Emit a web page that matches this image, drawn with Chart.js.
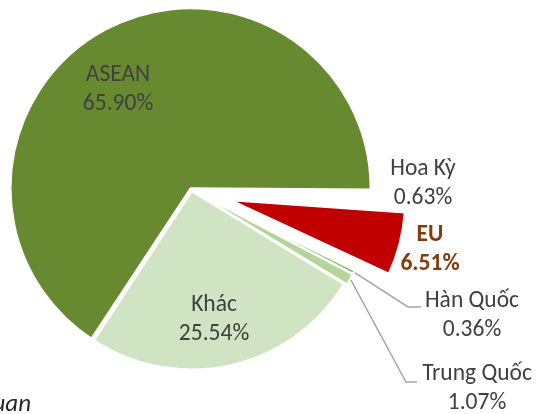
<!DOCTYPE html>
<html><head><meta charset="utf-8">
<script src="https://cdn.jsdelivr.net/npm/chart.js@4.4.1/dist/chart.umd.min.js"></script>
<style>html,body{margin:0;padding:0;background:#fff;overflow:hidden}</style>
</head><body>
<canvas id="c" width="538" height="414"></canvas>
<script>
// ---- data ----
const categories = ['ASEAN', 'Hoa Kỳ', 'EU', 'Hàn Quốc', 'Trung Quốc', 'Khác'];
const shares = [65.90, 0.63, 6.51, 0.36, 1.07, 25.54];
const valueLabels = ['65.90%', '0.63%', '6.51%', '0.36%', '1.07%', '25.54%'];
const sourceText = 'uan';

// ---- styles ----
const sliceColors = ['#678A31', 'rgba(255,255,255,0)', '#C00000', '#76B04A', '#B3D598', '#D0E3C2'];
const sliceOffsets = [8, 0, 162, 8, 8, 6];
const radiusTrim = [0, 0, 28, 0, 0, 0];   // EU slice drawn a little smaller
const FONT = 'Carlito, Calibri, Lato, sans-serif';
const FONT_SIZE = 23.5;
const labelStyle = [
  {x: 118, y: 81, color: '#404040', bold: false},
  {x: 423, y: 175, color: '#404040', bold: false},
  {x: 430, y: 241, color: '#843C0C', bold: true},
  {x: 472, y: 307, color: '#404040', bold: false, leader: [[408, 307], [421, 307]]},
  {x: 477, y: 380, color: '#404040', bold: false, leader: [[406, 382], [417, 382]]},
  {x: 214, y: 311, color: '#404040', bold: false}
];
const LINE_GAP = 29;

const labelPlugin = {
  id: 'sliceLabels',
  afterDatasetsUpdate(chart) {
    const meta = chart.getDatasetMeta(0);
    meta.data.forEach((el, i) => {
      if (radiusTrim[i]) el.outerRadius = el.outerRadius - radiusTrim[i];
    });
  },
  afterDatasetsDraw(chart) {
    const ctx = chart.ctx;
    const meta = chart.getDatasetMeta(0);
    ctx.save();
    // leader lines
    labelStyle.forEach((s, i) => {
      if (!s.leader) return;
      const el = meta.data[i];
      const mid = (el.startAngle + el.endAngle) / 2;
      const r = el.outerRadius + 5;
      const sx = el.x + Math.cos(mid) * r;
      const sy = el.y + Math.sin(mid) * r;
      ctx.beginPath();
      ctx.strokeStyle = '#A6A6A6';
      ctx.lineWidth = 1.5;
      ctx.moveTo(sx, sy);
      s.leader.forEach(p => ctx.lineTo(p[0], p[1]));
      ctx.stroke();
    });
    // texts
    ctx.textAlign = 'center';
    ctx.textBaseline = 'alphabetic';
    labelStyle.forEach((s, i) => {
      ctx.fillStyle = s.color;
      ctx.font = (s.bold ? 'bold ' : '') + FONT_SIZE + 'px ' + FONT;
      ctx.fillText(categories[i], s.x, s.y);
      ctx.fillText(valueLabels[i], s.x, s.y + LINE_GAP);
    });
    // source note (cut at the left edge)
    ctx.textAlign = 'right';
    ctx.fillStyle = '#262626';
    ctx.font = 'italic 25px ' + FONT;
    ctx.fillText(sourceText, 31, 411);
    ctx.restore();
  }
};

new Chart(document.getElementById('c'), {
  type: 'pie',
  data: {
    labels: categories,
    datasets: [{
      data: shares,
      backgroundColor: sliceColors,
      borderColor: '#FFFFFF',
      borderWidth: 2,
      offset: sliceOffsets,
      hoverOffset: 0
    }]
  },
  options: {
    responsive: false,
    devicePixelRatio: 1,
    animation: false,
    events: [],
    radius: 178,
    rotation: 213.3,
    layout: {padding: {left: 0, top: 0, right: 155, bottom: 34}},
    plugins: {legend: {display: false}, tooltip: {enabled: false}}
  },
  plugins: [labelPlugin]
});
</script>
</body></html>
